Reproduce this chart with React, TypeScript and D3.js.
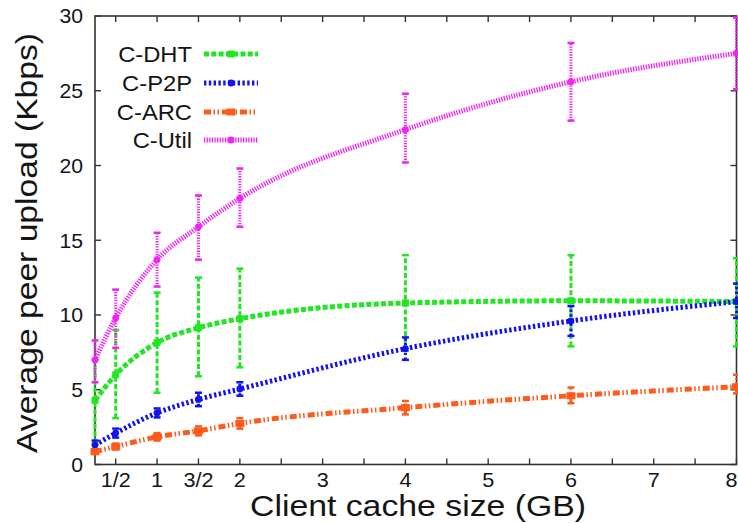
import React from "react";
import * as d3 from "d3";

// Client cache sizes (GB) at which peer upload was measured
const cacheSizes = [0.25, 0.5, 1, 1.5, 2, 4, 6, 8];

// Average peer upload (Kbps) with error-bar bounds per scheme
const dhtMean = [4.3, 6.0, 8.15, 9.15, 9.75, 10.8, 10.95, 10.9];
const dhtLow = [1.4, 3.1, 4.8, 5.9, 6.5, 7.6, 7.9, 7.9];
const dhtHigh = [7.0, 9.0, 11.5, 12.5, 13.1, 14.0, 14.0, 13.8];

const p2pMean = [1.3, 2.1, 3.45, 4.35, 5.05, 7.75, 9.6, 10.9];
const p2pLow = [1.0, 1.8, 3.15, 3.9, 4.6, 7.0, 8.6, 9.8];
const p2pHigh = [1.6, 2.4, 3.75, 4.8, 5.5, 8.5, 10.6, 12.1];

const arcMean = [0.86, 1.2, 1.85, 2.25, 2.75, 3.8, 4.6, 5.2];
const arcLow = [0.7, 1.0, 1.6, 1.95, 2.4, 3.35, 4.1, 4.76];
const arcHigh = [1.0, 1.4, 2.1, 2.55, 3.1, 4.25, 5.15, 6.0];

const utilMean = [7.0, 9.8, 13.7, 15.9, 17.8, 22.4, 25.6, 27.5];
const utilLow = [5.5, 7.8, 11.9, 13.7, 15.9, 20.2, 23.0, 25.1];
const utilHigh = [8.3, 11.7, 15.5, 18.0, 19.8, 24.8, 28.2, 29.9];

const seriesNames = ["C-DHT", "C-P2P", "C-ARC", "C-Util"];

// Axis ticks
const xTickValues = [0.5, 1, 1.5, 2, 2.5, 3, 3.5, 4, 4.5, 5, 5.5, 6, 6.5, 7, 7.5, 8];
const xLabelValues = [0.5, 1, 1.5, 2, 3, 4, 5, 6, 7, 8];
const xLabelTexts = ["1/2", "1", "3/2", "2", "3", "4", "5", "6", "7", "8"];
const yTickValues = [0, 5, 10, 15, 20, 25, 30];

const W = 738;
const H = 523;
const plot = { left: 95, right: 736.5, top: 16, bottom: 464.5 };
const FONT = "'Liberation Sans', Arial, Helvetica, sans-serif";
const TEXT_COLOR = "#141414";

type Style = { color: string; dash: string; marker: "square" | "circle" | "rect" };

const styles: Style[] = [
  { color: "#22e622", dash: "5,2.3", marker: "square" },
  { color: "#1212f0", dash: "2.4,2.4", marker: "circle" },
  { color: "#ff5a1a", dash: "7,2.5,1.5,2.5,1.5,3", marker: "rect" },
  { color: "#f224f2", dash: "1.3,1.3", marker: "circle" },
];

const series = [
  { mean: dhtMean, low: dhtLow, high: dhtHigh },
  { mean: p2pMean, low: p2pLow, high: p2pHigh },
  { mean: arcMean, low: arcLow, high: arcHigh },
  { mean: utilMean, low: utilLow, high: utilHigh },
];

function Marker({ x, y, s }: { x: number; y: number; s: Style }) {
  if (s.marker === "circle") return <circle cx={x} cy={y} r={3.4} fill={s.color} />;
  if (s.marker === "rect")
    return <rect x={x - 4.5} y={y - 3.5} width={9} height={7} fill={s.color} />;
  return <rect x={x - 3.5} y={y - 3.5} width={7} height={7} fill={s.color} />;
}

// Text drawn slightly wide, as in the original plot's typeface
function WideText({
  x,
  y,
  size,
  anchor,
  stretch,
  baseline,
  children,
}: {
  x: number;
  y: number;
  size: number;
  anchor: "start" | "middle" | "end";
  stretch: number;
  baseline?: "central" | "auto";
  children: React.ReactNode;
}) {
  return (
    <text
      transform={`translate(${x},${y}) scale(${stretch},1)`}
      textAnchor={anchor}
      dominantBaseline={baseline || "auto"}
      fontFamily={FONT}
      fontSize={size}
      fill={TEXT_COLOR}
    >
      {children}
    </text>
  );
}

export default function App() {
  const x = d3.scaleLinear().domain([0.25, 8]).range([plot.left, plot.right]);
  const y = d3.scaleLinear().domain([0, 30]).range([plot.bottom, plot.top]);

  const line = d3
    .line<number>()
    .x((_, i) => x(cacheSizes[i]))
    .y((d) => y(d))
    .curve(d3.curveMonotoneX);

  const axisColor = "#333";
  const tickLen = 6;

  const legendRows = [54, 83, 112, 140];
  const legendX0 = 204;
  const legendX1 = 258;

  return (
    <svg width={W} height={H} style={{ display: "block", position: "absolute", left: 0, top: 0 }}>
      <rect width={W} height={H} fill="#fff" />

      {/* y ticks on left and right */}
      {yTickValues.map((v) => (
        <g key={"y" + v}>
          <line x1={plot.left} x2={plot.left + tickLen} y1={y(v)} y2={y(v)} stroke={axisColor} strokeWidth={1.4} />
          <line x1={plot.right} x2={plot.right - tickLen} y1={y(v)} y2={y(v)} stroke={axisColor} strokeWidth={1.4} />
          <WideText x={83} y={y(v)} size={20} anchor="end" stretch={1.06} baseline="central">
            {v}
          </WideText>
        </g>
      ))}

      {/* x ticks on bottom and top */}
      {xTickValues.map((v) => (
        <g key={"x" + v}>
          <line x1={x(v)} x2={x(v)} y1={plot.bottom} y2={plot.bottom - tickLen} stroke={axisColor} strokeWidth={1.4} />
          <line x1={x(v)} x2={x(v)} y1={plot.top} y2={plot.top + tickLen} stroke={axisColor} strokeWidth={1.4} />
        </g>
      ))}
      {xLabelValues.map((v, i) => {
        const last = i === xLabelValues.length - 1;
        return (
          <WideText
            key={"xl" + v}
            x={last ? W - 0.5 : x(v)}
            y={487}
            size={20}
            anchor={last ? "end" : "middle"}
            stretch={1.08}
          >
            {xLabelTexts[i]}
          </WideText>
        );
      })}

      {/* frame */}
      <rect
        x={plot.left}
        y={plot.top}
        width={plot.right - plot.left}
        height={plot.bottom - plot.top}
        fill="none"
        stroke={axisColor}
        strokeWidth={1.6}
      />

      {/* axis titles */}
      <text
        x={418}
        y={516}
        textAnchor="middle"
        fontFamily={FONT}
        fontSize={29}
        fill={TEXT_COLOR}
        textLength={336}
        lengthAdjust="spacingAndGlyphs"
      >
        Client cache size (GB)
      </text>
      <text
        transform={`translate(37,243) rotate(-90)`}
        textAnchor="middle"
        fontFamily={FONT}
        fontSize={30}
        fill={TEXT_COLOR}
        textLength={420}
        lengthAdjust="spacingAndGlyphs"
      >
        Average peer upload (Kbps)
      </text>

      {/* series: error bars, curve, markers */}
      {series.map((s, si) => {
        const st = styles[si];
        return (
          <g key={seriesNames[si]}>
            {cacheSizes.map((c, i) => {
              const cx = x(c);
              return (
                <g key={i}>
                  <line
                    x1={cx}
                    x2={cx}
                    y1={y(s.low[i])}
                    y2={y(s.high[i])}
                    stroke={st.color}
                    strokeWidth={3}
                    strokeDasharray={st.dash}
                  />
                  <line x1={cx - 3.5} x2={cx + 3.5} y1={y(s.low[i])} y2={y(s.low[i])} stroke={st.color} strokeWidth={2.5} />
                  <line x1={cx - 3.5} x2={cx + 3.5} y1={y(s.high[i])} y2={y(s.high[i])} stroke={st.color} strokeWidth={2.5} />
                </g>
              );
            })}
            <path
              d={line(s.mean) || ""}
              fill="none"
              stroke={st.color}
              strokeWidth={5}
              strokeDasharray={st.dash}
            />
            {cacheSizes.map((c, i) => (
              <Marker key={"m" + i} x={x(c)} y={y(s.mean[i])} s={st} />
            ))}
          </g>
        );
      })}

      {/* legend */}
      {seriesNames.map((name, i) => {
        const st = styles[i];
        const ly = legendRows[i];
        return (
          <g key={"lg" + name}>
            <WideText x={192} y={ly} size={22} anchor="end" stretch={1.08} baseline="central">
              {name}
            </WideText>
            <line
              x1={legendX0}
              x2={legendX1}
              y1={ly}
              y2={ly}
              stroke={st.color}
              strokeWidth={5}
              strokeDasharray={st.dash}
            />
            <Marker x={(legendX0 + legendX1) / 2} y={ly} s={st} />
          </g>
        );
      })}
    </svg>
  );
}
